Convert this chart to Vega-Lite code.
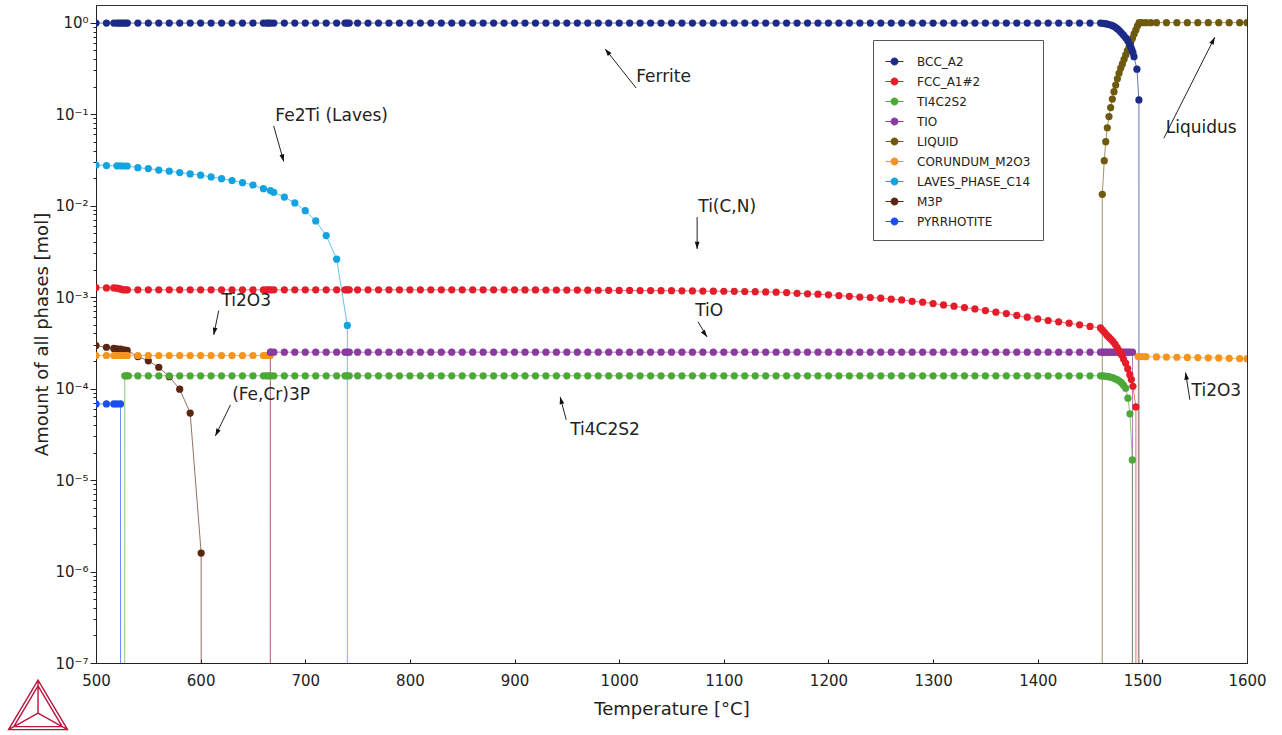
{
"$schema": "https://vega.github.io/schema/vega-lite/v6.json",
"width": 1151, "height": 658,
"autosize": {"type": "none"},
"padding": {"left": 96, "top": 5, "right": 35, "bottom": 72},
"background": "white",
"config": {"font": "DejaVu Sans", "view": {"stroke": "#333", "strokeWidth": 1}},
"datasets": {
"phases": [
{"phase":"PYRRHOTITE","T":500,"amt":6.8e-5},{"phase":"PYRRHOTITE","T":510,"amt":6.8e-5},{"phase":"PYRRHOTITE","T":517,"amt":6.8e-5},{"phase":"PYRRHOTITE","T":520,"amt":6.8e-5},{"phase":"PYRRHOTITE","T":523.4,"amt":6.8e-5},{"phase":"PYRRHOTITE","T":523.5,"amt":1e-12},
{"phase":"M3P","T":500,"amt":2.95e-4},{"phase":"M3P","T":510,"amt":2.83e-4},{"phase":"M3P","T":517,"amt":2.75e-4},{"phase":"M3P","T":520,"amt":2.72e-4},{"phase":"M3P","T":523.4,"amt":2.7e-4},{"phase":"M3P","T":526.6,"amt":2.65e-4},{"phase":"M3P","T":529.8,"amt":2.61e-4},{"phase":"M3P","T":540,"amt":2.24e-4},{"phase":"M3P","T":550,"amt":2.01e-4},{"phase":"M3P","T":560,"amt":1.71e-4},{"phase":"M3P","T":570,"amt":1.35e-4},{"phase":"M3P","T":580,"amt":9.85e-5},{"phase":"M3P","T":590,"amt":5.39e-5},{"phase":"M3P","T":600.5,"amt":1.59e-6},{"phase":"M3P","T":600.6,"amt":1e-12},
{"phase":"LAVES_PHASE_C14","T":500,"amt":0.0278},{"phase":"LAVES_PHASE_C14","T":510,"amt":0.0274},{"phase":"LAVES_PHASE_C14","T":520,"amt":0.0272},{"phase":"LAVES_PHASE_C14","T":523.4,"amt":0.0272},{"phase":"LAVES_PHASE_C14","T":526.6,"amt":0.0271},{"phase":"LAVES_PHASE_C14","T":529.8,"amt":0.0271},{"phase":"LAVES_PHASE_C14","T":540,"amt":0.026},{"phase":"LAVES_PHASE_C14","T":550,"amt":0.0254},{"phase":"LAVES_PHASE_C14","T":560,"amt":0.0245},{"phase":"LAVES_PHASE_C14","T":570,"amt":0.0238},{"phase":"LAVES_PHASE_C14","T":580,"amt":0.023},{"phase":"LAVES_PHASE_C14","T":590,"amt":0.0222},{"phase":"LAVES_PHASE_C14","T":600,"amt":0.0215},{"phase":"LAVES_PHASE_C14","T":610,"amt":0.0206},{"phase":"LAVES_PHASE_C14","T":620,"amt":0.0197},{"phase":"LAVES_PHASE_C14","T":630,"amt":0.0188},{"phase":"LAVES_PHASE_C14","T":640,"amt":0.0178},{"phase":"LAVES_PHASE_C14","T":650,"amt":0.0168},{"phase":"LAVES_PHASE_C14","T":660,"amt":0.0153},{"phase":"LAVES_PHASE_C14","T":666.7,"amt":0.0146},{"phase":"LAVES_PHASE_C14","T":669.8,"amt":0.014},{"phase":"LAVES_PHASE_C14","T":680,"amt":0.0124},{"phase":"LAVES_PHASE_C14","T":690,"amt":0.0107},{"phase":"LAVES_PHASE_C14","T":700,"amt":0.0088},{"phase":"LAVES_PHASE_C14","T":710,"amt":0.0068},{"phase":"LAVES_PHASE_C14","T":720,"amt":0.0047},{"phase":"LAVES_PHASE_C14","T":730,"amt":0.0026},{"phase":"LAVES_PHASE_C14","T":740.2,"amt":0.00049},{"phase":"LAVES_PHASE_C14","T":740.3,"amt":1e-12},
{"phase":"CORUNDUM_M2O3","T":500,"amt":2.3e-4},{"phase":"CORUNDUM_M2O3","T":510,"amt":2.3e-4},{"phase":"CORUNDUM_M2O3","T":517,"amt":2.3e-4},{"phase":"CORUNDUM_M2O3","T":520,"amt":2.3e-4},{"phase":"CORUNDUM_M2O3","T":522,"amt":2.3e-4},{"phase":"CORUNDUM_M2O3","T":524,"amt":2.3e-4},{"phase":"CORUNDUM_M2O3","T":526,"amt":2.3e-4},{"phase":"CORUNDUM_M2O3","T":528,"amt":2.3e-4},{"phase":"CORUNDUM_M2O3","T":530,"amt":2.3e-4},{"phase":"CORUNDUM_M2O3","T":540,"amt":2.3e-4},{"phase":"CORUNDUM_M2O3","T":550,"amt":2.3e-4},{"phase":"CORUNDUM_M2O3","T":560,"amt":2.3e-4},{"phase":"CORUNDUM_M2O3","T":570,"amt":2.3e-4},{"phase":"CORUNDUM_M2O3","T":580,"amt":2.3e-4},{"phase":"CORUNDUM_M2O3","T":590,"amt":2.3e-4},{"phase":"CORUNDUM_M2O3","T":600,"amt":2.3e-4},{"phase":"CORUNDUM_M2O3","T":610,"amt":2.3e-4},{"phase":"CORUNDUM_M2O3","T":620,"amt":2.3e-4},{"phase":"CORUNDUM_M2O3","T":630,"amt":2.3e-4},{"phase":"CORUNDUM_M2O3","T":640,"amt":2.3e-4},{"phase":"CORUNDUM_M2O3","T":650,"amt":2.3e-4},{"phase":"CORUNDUM_M2O3","T":660,"amt":2.3e-4},{"phase":"CORUNDUM_M2O3","T":663,"amt":2.3e-4},{"phase":"CORUNDUM_M2O3","T":665,"amt":2.3e-4},{"phase":"CORUNDUM_M2O3","T":666.5,"amt":2.3e-4},{"phase":"CORUNDUM_M2O3","T":666.6,"amt":1e-12},{"phase":"CORUNDUM_M2O3","T":1495.9,"amt":1e-12},{"phase":"CORUNDUM_M2O3","T":1496,"amt":2.24e-4},{"phase":"CORUNDUM_M2O3","T":1499.5,"amt":2.24e-4},{"phase":"CORUNDUM_M2O3","T":1503.5,"amt":2.23e-4},{"phase":"CORUNDUM_M2O3","T":1513.5,"amt":2.22e-4},{"phase":"CORUNDUM_M2O3","T":1523,"amt":2.21e-4},{"phase":"CORUNDUM_M2O3","T":1533,"amt":2.2e-4},{"phase":"CORUNDUM_M2O3","T":1543,"amt":2.19e-4},{"phase":"CORUNDUM_M2O3","T":1553,"amt":2.18e-4},{"phase":"CORUNDUM_M2O3","T":1563,"amt":2.17e-4},{"phase":"CORUNDUM_M2O3","T":1573,"amt":2.16e-4},{"phase":"CORUNDUM_M2O3","T":1583,"amt":2.14e-4},{"phase":"CORUNDUM_M2O3","T":1593,"amt":2.13e-4},{"phase":"CORUNDUM_M2O3","T":1600,"amt":2.12e-4},
{"phase":"LIQUID","T":1461.6,"amt":1e-12},{"phase":"LIQUID","T":1461.7,"amt":0.0133},{"phase":"LIQUID","T":1463.6,"amt":0.031},{"phase":"LIQUID","T":1465.0,"amt":0.05},{"phase":"LIQUID","T":1466.5,"amt":0.071},{"phase":"LIQUID","T":1468.1,"amt":0.094},{"phase":"LIQUID","T":1469.7,"amt":0.118},{"phase":"LIQUID","T":1471.3,"amt":0.146},{"phase":"LIQUID","T":1472.9,"amt":0.176},{"phase":"LIQUID","T":1474.5,"amt":0.208},{"phase":"LIQUID","T":1476.1,"amt":0.243},{"phase":"LIQUID","T":1477.7,"amt":0.28},{"phase":"LIQUID","T":1479.3,"amt":0.318},{"phase":"LIQUID","T":1480.9,"amt":0.354},{"phase":"LIQUID","T":1482.5,"amt":0.398},{"phase":"LIQUID","T":1484.1,"amt":0.444},{"phase":"LIQUID","T":1485.7,"amt":0.494},{"phase":"LIQUID","T":1487.3,"amt":0.547},{"phase":"LIQUID","T":1488.9,"amt":0.611},{"phase":"LIQUID","T":1490.5,"amt":0.675},{"phase":"LIQUID","T":1492.1,"amt":0.753},{"phase":"LIQUID","T":1493.8,"amt":0.832},{"phase":"LIQUID","T":1495.3,"amt":0.92},{"phase":"LIQUID","T":1496.9,"amt":1.0},{"phase":"LIQUID","T":1499.5,"amt":1.0},{"phase":"LIQUID","T":1503.5,"amt":1.0},{"phase":"LIQUID","T":1508,"amt":1.0},{"phase":"LIQUID","T":1513.5,"amt":1.0},{"phase":"LIQUID","T":1523,"amt":1.0},{"phase":"LIQUID","T":1533,"amt":1.0},{"phase":"LIQUID","T":1543,"amt":1.0},{"phase":"LIQUID","T":1553,"amt":1.0},{"phase":"LIQUID","T":1563,"amt":1.0},{"phase":"LIQUID","T":1573,"amt":1.0},{"phase":"LIQUID","T":1583,"amt":1.0},{"phase":"LIQUID","T":1593,"amt":1.0},{"phase":"LIQUID","T":1600,"amt":1.0},
{"phase":"TIO","T":666.6,"amt":1e-12},{"phase":"TIO","T":666.7,"amt":2.5e-4},{"phase":"TIO","T":667,"amt":2.5e-4},{"phase":"TIO","T":670,"amt":2.5e-4},{"phase":"TIO","T":680,"amt":2.5e-4},{"phase":"TIO","T":690,"amt":2.5e-4},{"phase":"TIO","T":700,"amt":2.5e-4},{"phase":"TIO","T":710,"amt":2.5e-4},{"phase":"TIO","T":720,"amt":2.5e-4},{"phase":"TIO","T":730,"amt":2.5e-4},{"phase":"TIO","T":738,"amt":2.5e-4},{"phase":"TIO","T":740,"amt":2.5e-4},{"phase":"TIO","T":742,"amt":2.5e-4},{"phase":"TIO","T":750,"amt":2.5e-4},{"phase":"TIO","T":760,"amt":2.5e-4},{"phase":"TIO","T":770,"amt":2.5e-4},{"phase":"TIO","T":780,"amt":2.5e-4},{"phase":"TIO","T":790,"amt":2.5e-4},{"phase":"TIO","T":800,"amt":2.5e-4},{"phase":"TIO","T":810,"amt":2.5e-4},{"phase":"TIO","T":820,"amt":2.5e-4},{"phase":"TIO","T":830,"amt":2.5e-4},{"phase":"TIO","T":840,"amt":2.5e-4},{"phase":"TIO","T":850,"amt":2.5e-4},{"phase":"TIO","T":860,"amt":2.5e-4},{"phase":"TIO","T":870,"amt":2.5e-4},{"phase":"TIO","T":880,"amt":2.5e-4},{"phase":"TIO","T":890,"amt":2.5e-4},{"phase":"TIO","T":900,"amt":2.5e-4},{"phase":"TIO","T":910,"amt":2.5e-4},{"phase":"TIO","T":920,"amt":2.5e-4},{"phase":"TIO","T":930,"amt":2.5e-4},{"phase":"TIO","T":940,"amt":2.5e-4},{"phase":"TIO","T":950,"amt":2.5e-4},{"phase":"TIO","T":960,"amt":2.5e-4},{"phase":"TIO","T":970,"amt":2.5e-4},{"phase":"TIO","T":980,"amt":2.5e-4},{"phase":"TIO","T":990,"amt":2.5e-4},{"phase":"TIO","T":1000,"amt":2.5e-4},{"phase":"TIO","T":1010,"amt":2.5e-4},{"phase":"TIO","T":1020,"amt":2.5e-4},{"phase":"TIO","T":1030,"amt":2.5e-4},{"phase":"TIO","T":1040,"amt":2.5e-4},{"phase":"TIO","T":1050,"amt":2.5e-4},{"phase":"TIO","T":1060,"amt":2.5e-4},{"phase":"TIO","T":1070,"amt":2.5e-4},{"phase":"TIO","T":1080,"amt":2.5e-4},{"phase":"TIO","T":1090,"amt":2.5e-4},{"phase":"TIO","T":1100,"amt":2.5e-4},{"phase":"TIO","T":1110,"amt":2.5e-4},{"phase":"TIO","T":1120,"amt":2.5e-4},{"phase":"TIO","T":1130,"amt":2.5e-4},{"phase":"TIO","T":1140,"amt":2.5e-4},{"phase":"TIO","T":1150,"amt":2.5e-4},{"phase":"TIO","T":1160,"amt":2.5e-4},{"phase":"TIO","T":1170,"amt":2.5e-4},{"phase":"TIO","T":1180,"amt":2.5e-4},{"phase":"TIO","T":1190,"amt":2.5e-4},{"phase":"TIO","T":1200,"amt":2.5e-4},{"phase":"TIO","T":1210,"amt":2.5e-4},{"phase":"TIO","T":1220,"amt":2.5e-4},{"phase":"TIO","T":1230,"amt":2.5e-4},{"phase":"TIO","T":1240,"amt":2.5e-4},{"phase":"TIO","T":1250,"amt":2.5e-4},{"phase":"TIO","T":1260,"amt":2.5e-4},{"phase":"TIO","T":1270,"amt":2.5e-4},{"phase":"TIO","T":1280,"amt":2.5e-4},{"phase":"TIO","T":1290,"amt":2.5e-4},{"phase":"TIO","T":1300,"amt":2.5e-4},{"phase":"TIO","T":1310,"amt":2.5e-4},{"phase":"TIO","T":1320,"amt":2.5e-4},{"phase":"TIO","T":1330,"amt":2.5e-4},{"phase":"TIO","T":1340,"amt":2.5e-4},{"phase":"TIO","T":1350,"amt":2.5e-4},{"phase":"TIO","T":1360,"amt":2.5e-4},{"phase":"TIO","T":1370,"amt":2.5e-4},{"phase":"TIO","T":1380,"amt":2.5e-4},{"phase":"TIO","T":1390,"amt":2.5e-4},{"phase":"TIO","T":1400,"amt":2.5e-4},{"phase":"TIO","T":1410,"amt":2.5e-4},{"phase":"TIO","T":1420,"amt":2.5e-4},{"phase":"TIO","T":1430,"amt":2.5e-4},{"phase":"TIO","T":1440,"amt":2.5e-4},{"phase":"TIO","T":1450,"amt":2.5e-4},{"phase":"TIO","T":1460,"amt":2.5e-4},{"phase":"TIO","T":1462,"amt":2.5e-4},{"phase":"TIO","T":1464,"amt":2.5e-4},{"phase":"TIO","T":1466,"amt":2.5e-4},{"phase":"TIO","T":1468,"amt":2.5e-4},{"phase":"TIO","T":1470,"amt":2.5e-4},{"phase":"TIO","T":1472,"amt":2.5e-4},{"phase":"TIO","T":1474,"amt":2.5e-4},{"phase":"TIO","T":1476,"amt":2.5e-4},{"phase":"TIO","T":1478,"amt":2.5e-4},{"phase":"TIO","T":1480,"amt":2.5e-4},{"phase":"TIO","T":1482,"amt":2.5e-4},{"phase":"TIO","T":1484,"amt":2.5e-4},{"phase":"TIO","T":1486,"amt":2.5e-4},{"phase":"TIO","T":1488,"amt":2.5e-4},{"phase":"TIO","T":1490.6,"amt":2.5e-4},{"phase":"TIO","T":1490.7,"amt":1e-12},
{"phase":"TI4C2S2","T":527.4,"amt":1e-12},{"phase":"TI4C2S2","T":527.5,"amt":1.38e-4},{"phase":"TI4C2S2","T":529,"amt":1.38e-4},{"phase":"TI4C2S2","T":531,"amt":1.38e-4},{"phase":"TI4C2S2","T":540,"amt":1.38e-4},{"phase":"TI4C2S2","T":550,"amt":1.38e-4},{"phase":"TI4C2S2","T":560,"amt":1.38e-4},{"phase":"TI4C2S2","T":570,"amt":1.38e-4},{"phase":"TI4C2S2","T":580,"amt":1.38e-4},{"phase":"TI4C2S2","T":590,"amt":1.38e-4},{"phase":"TI4C2S2","T":600,"amt":1.38e-4},{"phase":"TI4C2S2","T":610,"amt":1.38e-4},{"phase":"TI4C2S2","T":620,"amt":1.38e-4},{"phase":"TI4C2S2","T":630,"amt":1.38e-4},{"phase":"TI4C2S2","T":640,"amt":1.38e-4},{"phase":"TI4C2S2","T":650,"amt":1.38e-4},{"phase":"TI4C2S2","T":660,"amt":1.38e-4},{"phase":"TI4C2S2","T":663,"amt":1.38e-4},{"phase":"TI4C2S2","T":665,"amt":1.38e-4},{"phase":"TI4C2S2","T":667,"amt":1.38e-4},{"phase":"TI4C2S2","T":670,"amt":1.38e-4},{"phase":"TI4C2S2","T":680,"amt":1.38e-4},{"phase":"TI4C2S2","T":690,"amt":1.38e-4},{"phase":"TI4C2S2","T":700,"amt":1.38e-4},{"phase":"TI4C2S2","T":710,"amt":1.38e-4},{"phase":"TI4C2S2","T":720,"amt":1.38e-4},{"phase":"TI4C2S2","T":730,"amt":1.38e-4},{"phase":"TI4C2S2","T":738,"amt":1.38e-4},{"phase":"TI4C2S2","T":740,"amt":1.38e-4},{"phase":"TI4C2S2","T":742,"amt":1.38e-4},{"phase":"TI4C2S2","T":750,"amt":1.38e-4},{"phase":"TI4C2S2","T":760,"amt":1.38e-4},{"phase":"TI4C2S2","T":770,"amt":1.38e-4},{"phase":"TI4C2S2","T":780,"amt":1.38e-4},{"phase":"TI4C2S2","T":790,"amt":1.38e-4},{"phase":"TI4C2S2","T":800,"amt":1.38e-4},{"phase":"TI4C2S2","T":810,"amt":1.38e-4},{"phase":"TI4C2S2","T":820,"amt":1.38e-4},{"phase":"TI4C2S2","T":830,"amt":1.38e-4},{"phase":"TI4C2S2","T":840,"amt":1.38e-4},{"phase":"TI4C2S2","T":850,"amt":1.38e-4},{"phase":"TI4C2S2","T":860,"amt":1.38e-4},{"phase":"TI4C2S2","T":870,"amt":1.38e-4},{"phase":"TI4C2S2","T":880,"amt":1.38e-4},{"phase":"TI4C2S2","T":890,"amt":1.38e-4},{"phase":"TI4C2S2","T":900,"amt":1.38e-4},{"phase":"TI4C2S2","T":910,"amt":1.38e-4},{"phase":"TI4C2S2","T":920,"amt":1.38e-4},{"phase":"TI4C2S2","T":930,"amt":1.38e-4},{"phase":"TI4C2S2","T":940,"amt":1.38e-4},{"phase":"TI4C2S2","T":950,"amt":1.38e-4},{"phase":"TI4C2S2","T":960,"amt":1.38e-4},{"phase":"TI4C2S2","T":970,"amt":1.38e-4},{"phase":"TI4C2S2","T":980,"amt":1.38e-4},{"phase":"TI4C2S2","T":990,"amt":1.38e-4},{"phase":"TI4C2S2","T":1000,"amt":1.38e-4},{"phase":"TI4C2S2","T":1010,"amt":1.38e-4},{"phase":"TI4C2S2","T":1020,"amt":1.38e-4},{"phase":"TI4C2S2","T":1030,"amt":1.38e-4},{"phase":"TI4C2S2","T":1040,"amt":1.38e-4},{"phase":"TI4C2S2","T":1050,"amt":1.38e-4},{"phase":"TI4C2S2","T":1060,"amt":1.38e-4},{"phase":"TI4C2S2","T":1070,"amt":1.38e-4},{"phase":"TI4C2S2","T":1080,"amt":1.38e-4},{"phase":"TI4C2S2","T":1090,"amt":1.38e-4},{"phase":"TI4C2S2","T":1100,"amt":1.38e-4},{"phase":"TI4C2S2","T":1110,"amt":1.38e-4},{"phase":"TI4C2S2","T":1120,"amt":1.38e-4},{"phase":"TI4C2S2","T":1130,"amt":1.38e-4},{"phase":"TI4C2S2","T":1140,"amt":1.38e-4},{"phase":"TI4C2S2","T":1150,"amt":1.38e-4},{"phase":"TI4C2S2","T":1160,"amt":1.38e-4},{"phase":"TI4C2S2","T":1170,"amt":1.38e-4},{"phase":"TI4C2S2","T":1180,"amt":1.38e-4},{"phase":"TI4C2S2","T":1190,"amt":1.38e-4},{"phase":"TI4C2S2","T":1200,"amt":1.38e-4},{"phase":"TI4C2S2","T":1210,"amt":1.38e-4},{"phase":"TI4C2S2","T":1220,"amt":1.38e-4},{"phase":"TI4C2S2","T":1230,"amt":1.38e-4},{"phase":"TI4C2S2","T":1240,"amt":1.38e-4},{"phase":"TI4C2S2","T":1250,"amt":1.38e-4},{"phase":"TI4C2S2","T":1260,"amt":1.38e-4},{"phase":"TI4C2S2","T":1270,"amt":1.38e-4},{"phase":"TI4C2S2","T":1280,"amt":1.38e-4},{"phase":"TI4C2S2","T":1290,"amt":1.38e-4},{"phase":"TI4C2S2","T":1300,"amt":1.38e-4},{"phase":"TI4C2S2","T":1310,"amt":1.38e-4},{"phase":"TI4C2S2","T":1320,"amt":1.38e-4},{"phase":"TI4C2S2","T":1330,"amt":1.38e-4},{"phase":"TI4C2S2","T":1340,"amt":1.38e-4},{"phase":"TI4C2S2","T":1350,"amt":1.38e-4},{"phase":"TI4C2S2","T":1360,"amt":1.38e-4},{"phase":"TI4C2S2","T":1370,"amt":1.38e-4},{"phase":"TI4C2S2","T":1380,"amt":1.38e-4},{"phase":"TI4C2S2","T":1390,"amt":1.38e-4},{"phase":"TI4C2S2","T":1400,"amt":1.38e-4},{"phase":"TI4C2S2","T":1410,"amt":1.38e-4},{"phase":"TI4C2S2","T":1420,"amt":1.38e-4},{"phase":"TI4C2S2","T":1430,"amt":1.38e-4},{"phase":"TI4C2S2","T":1440,"amt":1.38e-4},{"phase":"TI4C2S2","T":1450,"amt":1.38e-4},{"phase":"TI4C2S2","T":1460,"amt":1.38e-4},{"phase":"TI4C2S2","T":1462,"amt":1.375e-4},{"phase":"TI4C2S2","T":1464,"amt":1.37e-4},{"phase":"TI4C2S2","T":1466,"amt":1.36e-4},{"phase":"TI4C2S2","T":1468,"amt":1.35e-4},{"phase":"TI4C2S2","T":1470,"amt":1.33e-4},{"phase":"TI4C2S2","T":1472,"amt":1.31e-4},{"phase":"TI4C2S2","T":1474,"amt":1.28e-4},{"phase":"TI4C2S2","T":1476,"amt":1.25e-4},{"phase":"TI4C2S2","T":1478,"amt":1.21e-4},{"phase":"TI4C2S2","T":1480,"amt":1.16e-4},{"phase":"TI4C2S2","T":1482,"amt":1.09e-4},{"phase":"TI4C2S2","T":1484,"amt":1.01e-4},{"phase":"TI4C2S2","T":1486.2,"amt":7.85e-5},{"phase":"TI4C2S2","T":1488.1,"amt":5.3e-5},{"phase":"TI4C2S2","T":1490.4,"amt":1.66e-5},{"phase":"TI4C2S2","T":1490.5,"amt":1e-12},
{"phase":"FCC_A1#2","T":500,"amt":1.27e-3},{"phase":"FCC_A1#2","T":510,"amt":1.26e-3},{"phase":"FCC_A1#2","T":517,"amt":1.26e-3},{"phase":"FCC_A1#2","T":520,"amt":1.25e-3},{"phase":"FCC_A1#2","T":522,"amt":1.24e-3},{"phase":"FCC_A1#2","T":524,"amt":1.22e-3},{"phase":"FCC_A1#2","T":526,"amt":1.2e-3},{"phase":"FCC_A1#2","T":528,"amt":1.2e-3},{"phase":"FCC_A1#2","T":530,"amt":1.2e-3},{"phase":"FCC_A1#2","T":540,"amt":1.2e-3},{"phase":"FCC_A1#2","T":550,"amt":1.2e-3},{"phase":"FCC_A1#2","T":560,"amt":1.2e-3},{"phase":"FCC_A1#2","T":570,"amt":1.2e-3},{"phase":"FCC_A1#2","T":580,"amt":1.2e-3},{"phase":"FCC_A1#2","T":590,"amt":1.2e-3},{"phase":"FCC_A1#2","T":600,"amt":1.2e-3},{"phase":"FCC_A1#2","T":610,"amt":1.2e-3},{"phase":"FCC_A1#2","T":620,"amt":1.2e-3},{"phase":"FCC_A1#2","T":630,"amt":1.2e-3},{"phase":"FCC_A1#2","T":640,"amt":1.2e-3},{"phase":"FCC_A1#2","T":650,"amt":1.2e-3},{"phase":"FCC_A1#2","T":660,"amt":1.2e-3},{"phase":"FCC_A1#2","T":663,"amt":1.2e-3},{"phase":"FCC_A1#2","T":665,"amt":1.2e-3},{"phase":"FCC_A1#2","T":667,"amt":1.2e-3},{"phase":"FCC_A1#2","T":670,"amt":1.2e-3},{"phase":"FCC_A1#2","T":680,"amt":1.2e-3},{"phase":"FCC_A1#2","T":690,"amt":1.2e-3},{"phase":"FCC_A1#2","T":700,"amt":1.2e-3},{"phase":"FCC_A1#2","T":710,"amt":1.2e-3},{"phase":"FCC_A1#2","T":720,"amt":1.2e-3},{"phase":"FCC_A1#2","T":730,"amt":1.2e-3},{"phase":"FCC_A1#2","T":738,"amt":1.2e-3},{"phase":"FCC_A1#2","T":740,"amt":1.2e-3},{"phase":"FCC_A1#2","T":742,"amt":1.2e-3},{"phase":"FCC_A1#2","T":750,"amt":1.2e-3},{"phase":"FCC_A1#2","T":760,"amt":1.2e-3},{"phase":"FCC_A1#2","T":770,"amt":1.2e-3},{"phase":"FCC_A1#2","T":780,"amt":1.2e-3},{"phase":"FCC_A1#2","T":790,"amt":1.2e-3},{"phase":"FCC_A1#2","T":800,"amt":1.2e-3},{"phase":"FCC_A1#2","T":810,"amt":1.2e-3},{"phase":"FCC_A1#2","T":820,"amt":1.2e-3},{"phase":"FCC_A1#2","T":830,"amt":1.2e-3},{"phase":"FCC_A1#2","T":840,"amt":1.2e-3},{"phase":"FCC_A1#2","T":850,"amt":1.2e-3},{"phase":"FCC_A1#2","T":860,"amt":1.2e-3},{"phase":"FCC_A1#2","T":870,"amt":1.2e-3},{"phase":"FCC_A1#2","T":880,"amt":1.2e-3},{"phase":"FCC_A1#2","T":890,"amt":1.2e-3},{"phase":"FCC_A1#2","T":900,"amt":1.2e-3},{"phase":"FCC_A1#2","T":910,"amt":1.198e-3},{"phase":"FCC_A1#2","T":920,"amt":1.197e-3},{"phase":"FCC_A1#2","T":930,"amt":1.196e-3},{"phase":"FCC_A1#2","T":940,"amt":1.195e-3},{"phase":"FCC_A1#2","T":950,"amt":1.194e-3},{"phase":"FCC_A1#2","T":960,"amt":1.192e-3},{"phase":"FCC_A1#2","T":970,"amt":1.19e-3},{"phase":"FCC_A1#2","T":980,"amt":1.188e-3},{"phase":"FCC_A1#2","T":990,"amt":1.186e-3},{"phase":"FCC_A1#2","T":1000,"amt":1.184e-3},{"phase":"FCC_A1#2","T":1010,"amt":1.182e-3},{"phase":"FCC_A1#2","T":1020,"amt":1.18e-3},{"phase":"FCC_A1#2","T":1030,"amt":1.178e-3},{"phase":"FCC_A1#2","T":1040,"amt":1.176e-3},{"phase":"FCC_A1#2","T":1050,"amt":1.174e-3},{"phase":"FCC_A1#2","T":1060,"amt":1.171e-3},{"phase":"FCC_A1#2","T":1070,"amt":1.168e-3},{"phase":"FCC_A1#2","T":1080,"amt":1.165e-3},{"phase":"FCC_A1#2","T":1090,"amt":1.162e-3},{"phase":"FCC_A1#2","T":1100,"amt":1.159e-3},{"phase":"FCC_A1#2","T":1110,"amt":1.155e-3},{"phase":"FCC_A1#2","T":1120,"amt":1.151e-3},{"phase":"FCC_A1#2","T":1130,"amt":1.146e-3},{"phase":"FCC_A1#2","T":1140,"amt":1.14e-3},{"phase":"FCC_A1#2","T":1150,"amt":1.132e-3},{"phase":"FCC_A1#2","T":1160,"amt":1.12e-3},{"phase":"FCC_A1#2","T":1170,"amt":1.1e-3},{"phase":"FCC_A1#2","T":1180,"amt":1.085e-3},{"phase":"FCC_A1#2","T":1190,"amt":1.075e-3},{"phase":"FCC_A1#2","T":1200,"amt":1.06e-3},{"phase":"FCC_A1#2","T":1210,"amt":1.04e-3},{"phase":"FCC_A1#2","T":1220,"amt":1.02e-3},{"phase":"FCC_A1#2","T":1230,"amt":1.0e-3},{"phase":"FCC_A1#2","T":1240,"amt":0.99e-3},{"phase":"FCC_A1#2","T":1250,"amt":0.973e-3},{"phase":"FCC_A1#2","T":1260,"amt":0.95e-3},{"phase":"FCC_A1#2","T":1270,"amt":0.93e-3},{"phase":"FCC_A1#2","T":1280,"amt":0.9e-3},{"phase":"FCC_A1#2","T":1290,"amt":0.88e-3},{"phase":"FCC_A1#2","T":1300,"amt":0.85e-3},{"phase":"FCC_A1#2","T":1310,"amt":0.822e-3},{"phase":"FCC_A1#2","T":1320,"amt":0.796e-3},{"phase":"FCC_A1#2","T":1330,"amt":0.768e-3},{"phase":"FCC_A1#2","T":1340,"amt":0.743e-3},{"phase":"FCC_A1#2","T":1350,"amt":0.712e-3},{"phase":"FCC_A1#2","T":1360,"amt":0.684e-3},{"phase":"FCC_A1#2","T":1370,"amt":0.66e-3},{"phase":"FCC_A1#2","T":1380,"amt":0.63e-3},{"phase":"FCC_A1#2","T":1390,"amt":0.603e-3},{"phase":"FCC_A1#2","T":1400,"amt":0.578e-3},{"phase":"FCC_A1#2","T":1410,"amt":0.555e-3},{"phase":"FCC_A1#2","T":1420,"amt":0.536e-3},{"phase":"FCC_A1#2","T":1430,"amt":0.518e-3},{"phase":"FCC_A1#2","T":1440,"amt":0.497e-3},{"phase":"FCC_A1#2","T":1450,"amt":0.478e-3},{"phase":"FCC_A1#2","T":1460,"amt":0.46e-3},{"phase":"FCC_A1#2","T":1462,"amt":4.35e-4},{"phase":"FCC_A1#2","T":1464,"amt":4.1e-4},{"phase":"FCC_A1#2","T":1466,"amt":3.85e-4},{"phase":"FCC_A1#2","T":1468,"amt":3.65e-4},{"phase":"FCC_A1#2","T":1470,"amt":3.45e-4},{"phase":"FCC_A1#2","T":1472,"amt":3.27e-4},{"phase":"FCC_A1#2","T":1474,"amt":3.05e-4},{"phase":"FCC_A1#2","T":1476,"amt":2.8e-4},{"phase":"FCC_A1#2","T":1478,"amt":2.58e-4},{"phase":"FCC_A1#2","T":1480,"amt":2.35e-4},{"phase":"FCC_A1#2","T":1482,"amt":2.1e-4},{"phase":"FCC_A1#2","T":1484,"amt":1.9e-4},{"phase":"FCC_A1#2","T":1486,"amt":1.65e-4},{"phase":"FCC_A1#2","T":1488,"amt":1.42e-4},{"phase":"FCC_A1#2","T":1489.5,"amt":1.26e-4},{"phase":"FCC_A1#2","T":1491,"amt":1.06e-4},{"phase":"FCC_A1#2","T":1493.8,"amt":6.3e-5},{"phase":"FCC_A1#2","T":1493.9,"amt":1e-12},
{"phase":"BCC_A2","T":500,"amt":0.99},{"phase":"BCC_A2","T":510,"amt":0.99},{"phase":"BCC_A2","T":517,"amt":0.99},{"phase":"BCC_A2","T":520,"amt":0.99},{"phase":"BCC_A2","T":522,"amt":0.99},{"phase":"BCC_A2","T":524,"amt":0.99},{"phase":"BCC_A2","T":526,"amt":0.99},{"phase":"BCC_A2","T":528,"amt":0.99},{"phase":"BCC_A2","T":530,"amt":0.99},{"phase":"BCC_A2","T":540,"amt":0.99},{"phase":"BCC_A2","T":550,"amt":0.99},{"phase":"BCC_A2","T":560,"amt":0.99},{"phase":"BCC_A2","T":570,"amt":0.99},{"phase":"BCC_A2","T":580,"amt":0.99},{"phase":"BCC_A2","T":590,"amt":0.99},{"phase":"BCC_A2","T":600,"amt":0.99},{"phase":"BCC_A2","T":610,"amt":0.99},{"phase":"BCC_A2","T":620,"amt":0.99},{"phase":"BCC_A2","T":630,"amt":0.99},{"phase":"BCC_A2","T":640,"amt":0.99},{"phase":"BCC_A2","T":650,"amt":0.99},{"phase":"BCC_A2","T":660,"amt":0.99},{"phase":"BCC_A2","T":663,"amt":0.99},{"phase":"BCC_A2","T":665,"amt":0.99},{"phase":"BCC_A2","T":667,"amt":0.99},{"phase":"BCC_A2","T":670,"amt":0.99},{"phase":"BCC_A2","T":680,"amt":0.99},{"phase":"BCC_A2","T":690,"amt":0.99},{"phase":"BCC_A2","T":700,"amt":0.99},{"phase":"BCC_A2","T":710,"amt":0.99},{"phase":"BCC_A2","T":720,"amt":0.99},{"phase":"BCC_A2","T":730,"amt":0.99},{"phase":"BCC_A2","T":738,"amt":0.99},{"phase":"BCC_A2","T":740,"amt":0.99},{"phase":"BCC_A2","T":742,"amt":0.99},{"phase":"BCC_A2","T":750,"amt":0.99},{"phase":"BCC_A2","T":760,"amt":0.99},{"phase":"BCC_A2","T":770,"amt":0.99},{"phase":"BCC_A2","T":780,"amt":0.99},{"phase":"BCC_A2","T":790,"amt":0.99},{"phase":"BCC_A2","T":800,"amt":0.99},{"phase":"BCC_A2","T":810,"amt":0.99},{"phase":"BCC_A2","T":820,"amt":0.99},{"phase":"BCC_A2","T":830,"amt":0.99},{"phase":"BCC_A2","T":840,"amt":0.99},{"phase":"BCC_A2","T":850,"amt":0.99},{"phase":"BCC_A2","T":860,"amt":0.99},{"phase":"BCC_A2","T":870,"amt":0.99},{"phase":"BCC_A2","T":880,"amt":0.99},{"phase":"BCC_A2","T":890,"amt":0.99},{"phase":"BCC_A2","T":900,"amt":0.99},{"phase":"BCC_A2","T":910,"amt":0.99},{"phase":"BCC_A2","T":920,"amt":0.99},{"phase":"BCC_A2","T":930,"amt":0.99},{"phase":"BCC_A2","T":940,"amt":0.99},{"phase":"BCC_A2","T":950,"amt":0.99},{"phase":"BCC_A2","T":960,"amt":0.99},{"phase":"BCC_A2","T":970,"amt":0.99},{"phase":"BCC_A2","T":980,"amt":0.99},{"phase":"BCC_A2","T":990,"amt":0.99},{"phase":"BCC_A2","T":1000,"amt":0.99},{"phase":"BCC_A2","T":1010,"amt":0.99},{"phase":"BCC_A2","T":1020,"amt":0.99},{"phase":"BCC_A2","T":1030,"amt":0.99},{"phase":"BCC_A2","T":1040,"amt":0.99},{"phase":"BCC_A2","T":1050,"amt":0.99},{"phase":"BCC_A2","T":1060,"amt":0.99},{"phase":"BCC_A2","T":1070,"amt":0.99},{"phase":"BCC_A2","T":1080,"amt":0.99},{"phase":"BCC_A2","T":1090,"amt":0.99},{"phase":"BCC_A2","T":1100,"amt":0.99},{"phase":"BCC_A2","T":1110,"amt":0.99},{"phase":"BCC_A2","T":1120,"amt":0.99},{"phase":"BCC_A2","T":1130,"amt":0.99},{"phase":"BCC_A2","T":1140,"amt":0.99},{"phase":"BCC_A2","T":1150,"amt":0.99},{"phase":"BCC_A2","T":1160,"amt":0.99},{"phase":"BCC_A2","T":1170,"amt":0.99},{"phase":"BCC_A2","T":1180,"amt":0.99},{"phase":"BCC_A2","T":1190,"amt":0.99},{"phase":"BCC_A2","T":1200,"amt":0.99},{"phase":"BCC_A2","T":1210,"amt":0.99},{"phase":"BCC_A2","T":1220,"amt":0.99},{"phase":"BCC_A2","T":1230,"amt":0.99},{"phase":"BCC_A2","T":1240,"amt":0.99},{"phase":"BCC_A2","T":1250,"amt":0.99},{"phase":"BCC_A2","T":1260,"amt":0.99},{"phase":"BCC_A2","T":1270,"amt":0.99},{"phase":"BCC_A2","T":1280,"amt":0.99},{"phase":"BCC_A2","T":1290,"amt":0.99},{"phase":"BCC_A2","T":1300,"amt":0.99},{"phase":"BCC_A2","T":1310,"amt":0.99},{"phase":"BCC_A2","T":1320,"amt":0.99},{"phase":"BCC_A2","T":1330,"amt":0.99},{"phase":"BCC_A2","T":1340,"amt":0.99},{"phase":"BCC_A2","T":1350,"amt":0.99},{"phase":"BCC_A2","T":1360,"amt":0.99},{"phase":"BCC_A2","T":1370,"amt":0.99},{"phase":"BCC_A2","T":1380,"amt":0.99},{"phase":"BCC_A2","T":1390,"amt":0.99},{"phase":"BCC_A2","T":1400,"amt":0.99},{"phase":"BCC_A2","T":1410,"amt":0.99},{"phase":"BCC_A2","T":1420,"amt":0.99},{"phase":"BCC_A2","T":1430,"amt":0.99},{"phase":"BCC_A2","T":1440,"amt":0.99},{"phase":"BCC_A2","T":1450,"amt":0.99},{"phase":"BCC_A2","T":1460,"amt":0.99},{"phase":"BCC_A2","T":1462,"amt":0.985},{"phase":"BCC_A2","T":1464,"amt":0.978},{"phase":"BCC_A2","T":1466,"amt":0.968},{"phase":"BCC_A2","T":1468,"amt":0.955},{"phase":"BCC_A2","T":1470,"amt":0.94},{"phase":"BCC_A2","T":1472,"amt":0.92},{"phase":"BCC_A2","T":1474,"amt":0.895},{"phase":"BCC_A2","T":1476,"amt":0.86},{"phase":"BCC_A2","T":1478,"amt":0.82},{"phase":"BCC_A2","T":1480,"amt":0.775},{"phase":"BCC_A2","T":1482,"amt":0.73},{"phase":"BCC_A2","T":1484,"amt":0.685},{"phase":"BCC_A2","T":1486,"amt":0.635},{"phase":"BCC_A2","T":1488,"amt":0.575},{"phase":"BCC_A2","T":1489,"amt":0.54},{"phase":"BCC_A2","T":1490,"amt":0.505},{"phase":"BCC_A2","T":1491,"amt":0.47},{"phase":"BCC_A2","T":1492,"amt":0.425},{"phase":"BCC_A2","T":1494.8,"amt":0.31},{"phase":"BCC_A2","T":1496.7,"amt":0.143},{"phase":"BCC_A2","T":1496.8,"amt":1e-12}
],
"notes": [
{"label":"Ferrite","T":1016.2,"amt":0.255},
{"label":"Fe2Ti (Laves)","T":671.4,"amt":0.0955},
{"label":"Ti(C,N)","T":1075.6,"amt":0.00968},
{"label":"Ti2O3","T":619.9,"amt":8.98e-4},
{"label":"TiO","T":1072.6,"amt":7.06e-4},
{"label":"(Fe,Cr)3P","T":630.1,"amt":8.53e-5},
{"label":"Ti4C2S2","T":953.2,"amt":3.54e-5},
{"label":"Ti2O3","T":1547.0,"amt":9.4e-5},
{"label":"Liquidus","T":1522.4,"amt":0.0707}
],
"arrows": [
{"T":1016.2,"amt":0.193,"T2":986.6,"amt2":0.516,"dir":321.5},
{"T":669.8,"amt":0.0743,"T2":679.4,"amt2":0.0303,"dir":164.4},
{"T":1074.5,"amt":0.00752,"T2":1074.5,"amt2":0.00336,"dir":180},
{"T":617.3,"amt":7.12e-4,"T2":612.5,"amt2":3.86e-4,"dir":191.6},
{"T":1075.4,"amt":5.36e-4,"T2":1084.0,"amt2":3.67e-4,"dir":144.5},
{"T":628.5,"amt":6.63e-5,"T2":614.1,"amt2":3.04e-5,"dir":205.8},
{"T":949.4,"amt":4.56e-5,"T2":943.6,"amt2":8.09e-5,"dir":345.4},
{"T":1545.4,"amt":7.54e-5,"T2":1541.3,"amt2":1.5e-4,"dir":351},
{"T":1520.5,"amt":0.0545,"T2":1569.2,"amt2":0.692,"dir":26.8}
],
"logo": [{"T":444.6,"amt":3.49e-8}]
},
"layer": [
{
"data": {"name": "phases"},
"mark": {"type": "line", "clip": true, "strokeWidth": 1, "opacity": 0.65},
"encoding": {
"x": {"field": "T", "type": "quantitative", "scale": {"domain": [500, 1600], "nice": false, "zero": false},
 "axis": {"title": "Temperature [°C]", "values": [500,600,700,800,900,1000,1100,1200,1300,1400,1500,1600], "format": "d", "grid": false, "tickSize": -4, "labelFontSize": 15, "labelColor": "#222", "labelPadding": 14, "titleFontSize": 18, "titleFontWeight": "normal", "titleColor": "#222", "titlePadding": 12, "domainColor": "#222", "tickColor": "#222", "labelFlush": false}},
"y": {"field": "amt", "type": "quantitative", "scale": {"type": "log", "domain": [1e-7, 1.56], "nice": false},
 "axis": {"title": "Amount of all phases [mol]", "grid": false,
  "values": [1e-7,2e-7,3e-7,4e-7,5e-7,6e-7,7e-7,8e-7,9e-7,1e-6,2e-6,3e-6,4e-6,5e-6,6e-6,7e-6,8e-6,9e-6,1e-5,2e-5,3e-5,4e-5,5e-5,6e-5,7e-5,8e-5,9e-5,1e-4,2e-4,3e-4,4e-4,5e-4,6e-4,7e-4,8e-4,9e-4,0.001,0.002,0.003,0.004,0.005,0.006,0.007,0.008,0.009,0.01,0.02,0.03,0.04,0.05,0.06,0.07,0.08,0.09,0.1,0.2,0.3,0.4,0.5,0.6,0.7,0.8,0.9,1],
  "labelExpr": "abs(log(datum.value)/LN10 - round(log(datum.value)/LN10)) < 0.001 ? '10' + ['⁻⁷','⁻⁶','⁻⁵','⁻⁴','⁻³','⁻²','⁻¹','⁰'][round(log(datum.value)/LN10) + 7] : ''",
  "labelOverlap": false, "labelFlush": false,
  "tickSize": {"condition": {"test": "abs(log(datum.value)/LN10 - round(log(datum.value)/LN10)) < 0.001", "value": 6}, "value": 3},
  "labelFontSize": 15, "labelColor": "#222", "labelPadding": 2,
  "titleFontSize": 18, "titleFontWeight": "normal", "titleColor": "#222", "titlePadding": 3,
  "domainColor": "#222", "tickColor": "#222"}},
"color": {"field": "phase", "type": "nominal",
 "scale": {"domain": ["BCC_A2","FCC_A1#2","TI4C2S2","TIO","LIQUID","CORUNDUM_M2O3","LAVES_PHASE_C14","M3P","PYRRHOTITE"],
  "range": ["#1c2b87","#e31e2a","#4ca937","#8b3a9f","#6d5a0e","#f7941d","#13a3e0","#5a2611","#1b4ef2"]},
 "legend": {"title": null, "orient": "none", "legendX": 777, "legendY": 35, "direction": "vertical",
  "symbolType": "M-1,0L1,0M-0.39,0A0.39,0.39,0,1,1,0.39,0A0.39,0.39,0,1,1,-0.39,0Z",
  "symbolSize": 324, "symbolStrokeWidth": 1, "symbolOpacity": 1,
  "labelFont": "DejaVu Sans", "labelFontSize": 12, "labelColor": "#222", "labelOffset": 13,
  "rowPadding": 4, "padding": 12, "strokeColor": "#555", "fillColor": "white",
  "encode": {"symbols": {"update": {"fill": {"scale": "color", "field": "value"}, "stroke": {"scale": "color", "field": "value"}, "opacity": {"value": 1}, "fillOpacity": {"value": 1}, "strokeOpacity": {"value": 1}}}}}}
}
},
{
"data": {"name": "phases"},
"mark": {"type": "point", "clip": true, "filled": true, "size": 52, "opacity": 1},
"encoding": {
"x": {"field": "T", "type": "quantitative", "scale": {"domain": [500, 1600], "nice": false, "zero": false}, "axis": {"title": "Temperature [°C]"}},
"y": {"field": "amt", "type": "quantitative", "scale": {"type": "log", "domain": [1e-7, 1.56], "nice": false}, "axis": {"title": "Amount of all phases [mol]"}},
"color": {"field": "phase", "type": "nominal",
 "scale": {"domain": ["BCC_A2","FCC_A1#2","TI4C2S2","TIO","LIQUID","CORUNDUM_M2O3","LAVES_PHASE_C14","M3P","PYRRHOTITE"],
  "range": ["#1c2b87","#e31e2a","#4ca937","#8b3a9f","#6d5a0e","#f7941d","#13a3e0","#5a2611","#1b4ef2"]},
 "legend": {"title": null, "orient": "none", "legendX": 777, "legendY": 35, "direction": "vertical",
  "symbolType": "M-1,0L1,0M-0.39,0A0.39,0.39,0,1,1,0.39,0A0.39,0.39,0,1,1,-0.39,0Z",
  "symbolSize": 324, "symbolStrokeWidth": 1, "symbolOpacity": 1,
  "labelFont": "DejaVu Sans", "labelFontSize": 12, "labelColor": "#222", "labelOffset": 13,
  "rowPadding": 4, "padding": 12, "strokeColor": "#555", "fillColor": "white",
  "encode": {"symbols": {"update": {"fill": {"scale": "color", "field": "value"}, "stroke": {"scale": "color", "field": "value"}, "opacity": {"value": 1}, "fillOpacity": {"value": 1}, "strokeOpacity": {"value": 1}}}}}}
}
},
{
"data": {"name": "arrows"},
"mark": {"type": "rule", "color": "#222", "strokeWidth": 1},
"encoding": {
"x": {"field": "T", "type": "quantitative", "scale": {"domain": [500, 1600], "nice": false, "zero": false}, "axis": {"title": "Temperature [°C]"}},
"y": {"field": "amt", "type": "quantitative", "scale": {"type": "log", "domain": [1e-7, 1.56], "nice": false}, "axis": {"title": "Amount of all phases [mol]"}},
"x2": {"field": "T2"},
"y2": {"field": "amt2"}
}
},
{
"data": {"name": "arrows"},
"mark": {"type": "point", "shape": "M0,0L-0.6,1.8L0.6,1.8Z", "filled": true, "size": 64, "color": "#111", "opacity": 1},
"encoding": {
"x": {"field": "T2", "type": "quantitative", "scale": {"domain": [500, 1600], "nice": false, "zero": false}, "axis": {"title": "Temperature [°C]"}},
"y": {"field": "amt2", "type": "quantitative", "scale": {"type": "log", "domain": [1e-7, 1.56], "nice": false}, "axis": {"title": "Amount of all phases [mol]"}},
"angle": {"field": "dir", "type": "quantitative", "scale": null}
}
},
{
"data": {"name": "notes"},
"mark": {"type": "text", "align": "left", "baseline": "middle", "fontSize": 17, "color": "#222", "font": "DejaVu Sans"},
"encoding": {
"x": {"field": "T", "type": "quantitative", "scale": {"domain": [500, 1600], "nice": false, "zero": false}, "axis": {"title": "Temperature [°C]"}},
"y": {"field": "amt", "type": "quantitative", "scale": {"type": "log", "domain": [1e-7, 1.56], "nice": false}, "axis": {"title": "Amount of all phases [mol]"}},
"text": {"field": "label"}
}
},
{
"data": {"name": "logo"},
"mark": {"type": "point", "shape": "M0,-0.84L-1,0.84L1,0.84Z M0,-0.64L-0.82,0.74L0.82,0.74Z M0,-0.84L0,0.28 M-1,0.84L0,0.28 M1,0.84L0,0.28", "filled": false, "size": 3481, "color": "#b8163f", "strokeWidth": 1.4, "opacity": 1, "clip": false},
"encoding": {
"x": {"field": "T", "type": "quantitative", "scale": {"domain": [500, 1600], "nice": false, "zero": false}, "axis": {"title": "Temperature [°C]"}},
"y": {"field": "amt", "type": "quantitative", "scale": {"type": "log", "domain": [1e-7, 1.56], "nice": false}, "axis": {"title": "Amount of all phases [mol]"}}
}
}
]
}
